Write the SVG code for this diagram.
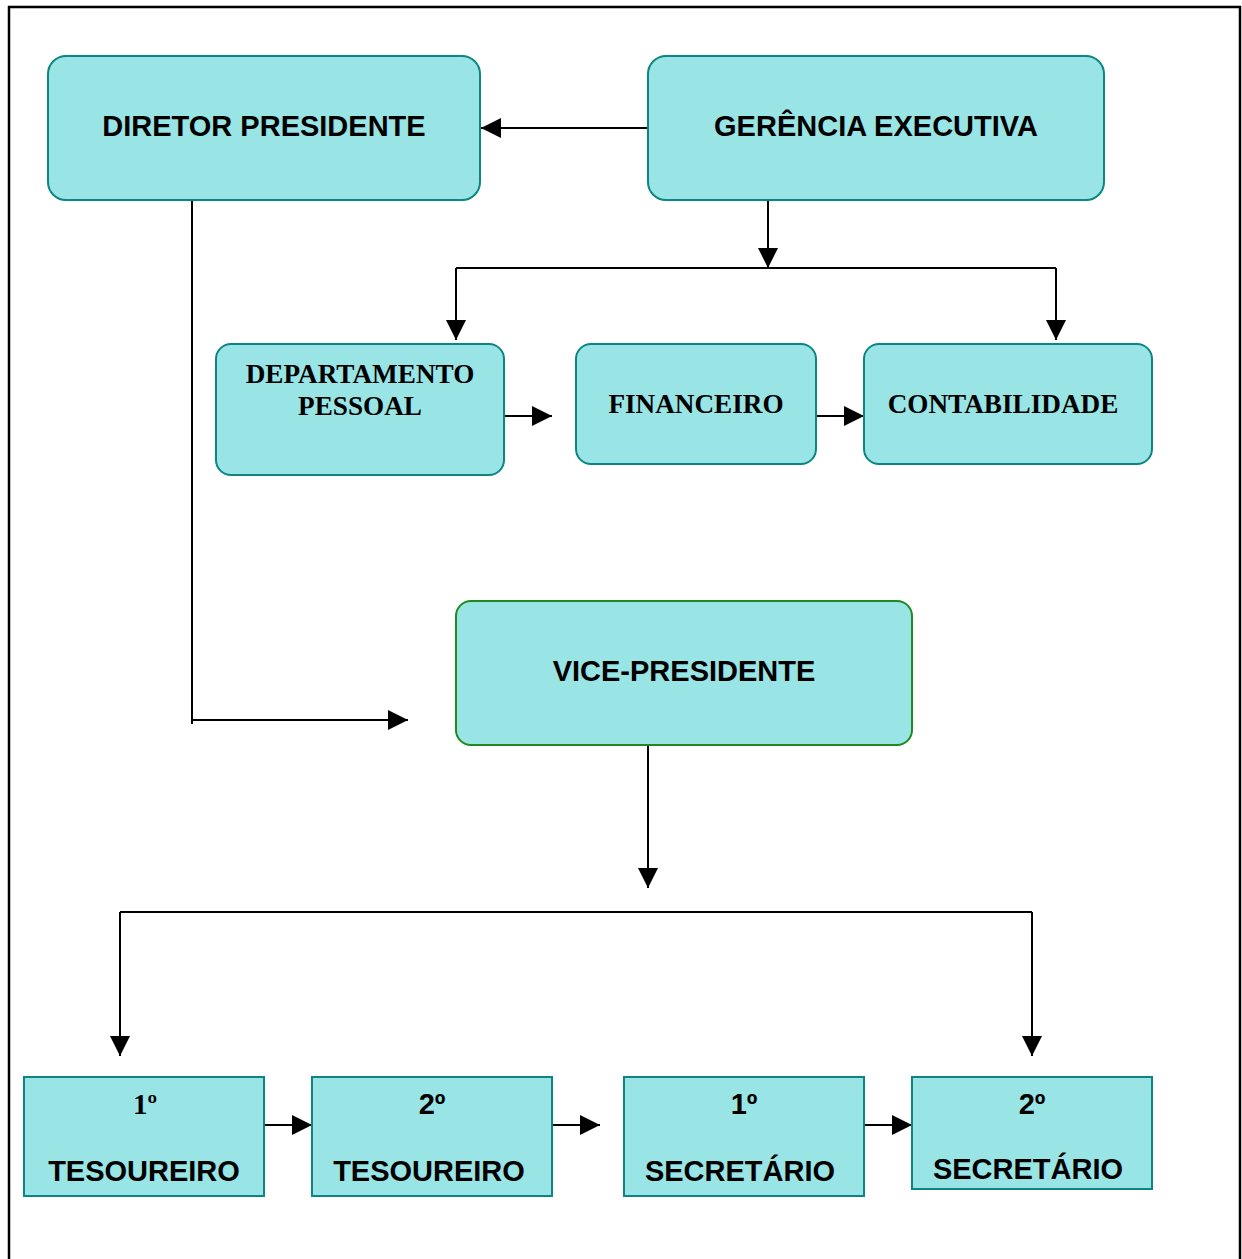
<svg xmlns="http://www.w3.org/2000/svg" width="1242" height="1259" viewBox="0 0 1242 1259">
<defs>
<marker id="ah" markerUnits="userSpaceOnUse" markerWidth="20" markerHeight="20" refX="20" refY="10" orient="auto">
<path d="M0,0 L20,10 L0,20 z" fill="#000"/>
</marker>
<style>
.n{fill:#99e4e4;stroke:#0e8585;stroke-width:2}
.g{fill:#99e4e4;stroke:#1f8a1f;stroke-width:2}
.a{font-family:"Liberation Sans",Arial,sans-serif;font-weight:bold;font-size:29px;fill:#000;text-anchor:middle}
.t{font-family:"Liberation Serif","Times New Roman",serif;font-weight:bold;font-size:27.2px;fill:#000;text-anchor:middle}
.c{fill:none;stroke:#000;stroke-width:2}
</style>
</defs>
<rect x="0" y="0" width="1242" height="1259" fill="#fff"/>
<path d="M9,1259 V7 H1240 V1259" fill="none" stroke="#000" stroke-width="2.5"/>
<g id="connectors">
<path class="c" d="M648,128 H481" marker-end="url(#ah)"/>
<path class="c" d="M768,196 V268" marker-end="url(#ah)"/>
<path class="c" d="M456,268 H1056"/>
<path class="c" d="M456,268 V340" marker-end="url(#ah)"/>
<path class="c" d="M1056,268 V340" marker-end="url(#ah)"/>
<path class="c" d="M504,416 H552" marker-end="url(#ah)"/>
<path class="c" d="M816,416 H864" marker-end="url(#ah)"/>
<path class="c" d="M192,200 V724"/>
<path class="c" d="M192,720 H408" marker-end="url(#ah)"/>
<path class="c" d="M648,745 V888" marker-end="url(#ah)"/>
<path class="c" d="M120,912 H1032"/>
<path class="c" d="M120,912 V1056" marker-end="url(#ah)"/>
<path class="c" d="M1032,912 V1056" marker-end="url(#ah)"/>
<path class="c" d="M264,1125 H312" marker-end="url(#ah)"/>
<path class="c" d="M552,1125 H600" marker-end="url(#ah)"/>
<path class="c" d="M864,1125 H912" marker-end="url(#ah)"/>
</g>
<g id="diretor">
<rect class="n" x="48" y="56" width="432" height="144" rx="18"/>
<text class="a" x="264" y="136">DIRETOR PRESIDENTE</text>
</g>
<g id="gerencia">
<rect class="n" x="648" y="56" width="456" height="144" rx="18"/>
<text class="a" x="876" y="136">GERÊNCIA EXECUTIVA</text>
</g>
<g id="departamento">
<rect class="n" x="216" y="344" width="288" height="131" rx="15"/>
<text class="t" x="360" y="383">DEPARTAMENTO</text>
<text class="t" x="360" y="415">PESSOAL</text>
</g>
<g id="financeiro">
<rect class="n" x="576" y="344" width="240" height="120" rx="15"/>
<text class="t" x="696" y="413">FINANCEIRO</text>
</g>
<g id="contabilidade">
<rect class="n" x="864" y="344" width="288" height="120" rx="15"/>
<text class="t" x="1003" y="413">CONTABILIDADE</text>
</g>
<g id="vice">
<rect class="g" x="456" y="601" width="456" height="144" rx="15"/>
<text class="a" x="684" y="681">VICE-PRESIDENTE</text>
</g>
<g id="tes1">
<rect class="n" x="24" y="1077" width="240" height="119"/>
<text class="t" x="145" y="1114" style="font-size:29px">1º</text>
<text class="a" x="144" y="1181">TESOUREIRO</text>
</g>
<g id="tes2">
<rect class="n" x="312" y="1077" width="240" height="119"/>
<text class="a" x="432" y="1114">2º</text>
<text class="a" x="429" y="1181">TESOUREIRO</text>
</g>
<g id="sec1">
<rect class="n" x="624" y="1077" width="240" height="119"/>
<text class="a" x="744" y="1114">1º</text>
<text class="a" x="740" y="1181">SECRETÁRIO</text>
</g>
<g id="sec2">
<rect class="n" x="912" y="1077" width="240" height="112"/>
<text class="a" x="1032" y="1114">2º</text>
<text class="a" x="1028" y="1179">SECRETÁRIO</text>
</g>
</svg>
